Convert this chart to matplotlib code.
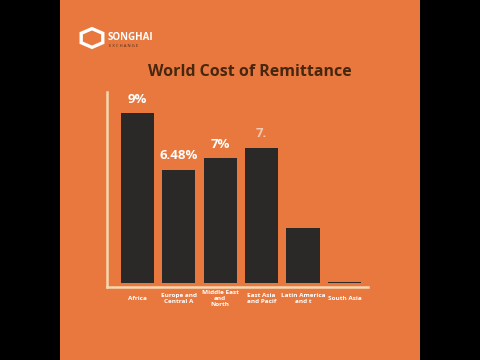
import matplotlib.pyplot as plt
from matplotlib.patches import Rectangle, RegularPolygon

regions = ["Africa", "Europe and\nCentral A", "Middle East\nand\nNorth", "East Asia\nand Pacif",
           "Latin America\nand t", "South Asia"]
cost = [9.0, 6.48, 7.0, 7.45, 3.9, 1.5]
value_labels = ["9%", "6.48%", "7%", "7.", "", ""]
label_alpha = [1, 1, 1, 0.6, 0, 0]

orange = "#E8783E"
dark = "#2A2927"
cream = "#F6D7AE"
base = 1.45

fig = plt.figure(figsize=(4.8, 3.6), dpi=100)
fig.patch.set_facecolor("black")
# orange panel between the black side bars
fig.add_artist(Rectangle((60 / 480, 0), 360 / 480, 1, transform=fig.transFigure,
                         facecolor=orange, edgecolor="none", zorder=0))

ax = fig.add_axes([107 / 480, 1 - 287 / 360, (368 - 107) / 480, (287 - 92) / 360])
ax.set_facecolor("none")
x = list(range(len(regions)))
heights = [c - base for c in cost]
ax.bar(x, heights, bottom=base, width=0.8, color=dark, zorder=2)
ax.set_xlim(-0.735, 5.57)
ax.set_ylim(1.27, 9.93)

for s in ["top", "right"]:
    ax.spines[s].set_visible(False)
for s in ["left", "bottom"]:
    ax.spines[s].set_color(cream)
    ax.spines[s].set_linewidth(1.8)
ax.set_yticks([])
ax.set_xticks(x)
ax.set_xticklabels(regions, color="white", fontsize=4.6, fontweight="bold",
                   family="Open Sans", linespacing=1.3)
ax.tick_params(axis="x", length=0, pad=0)
for t in ax.get_xticklabels():
    t.set_verticalalignment("center")
    t.set_y(-0.06)

for xi, c, lab, a in zip(x, cost, value_labels, label_alpha):
    if lab:
        ax.text(xi, c + 0.33, lab, ha="center", va="bottom", color="white", alpha=a,
                fontsize=9.5, fontweight="bold", family="Open Sans")

fig.text(250 / 480, 1 - 72 / 360, "World Cost of Remittance", ha="center", va="center",
         fontsize=11.5, fontweight="bold", color="#48260F", family="Open Sans")

# logo
fig.add_artist(RegularPolygon((92 / 480, 1 - 38 / 360), numVertices=6, radius=0.026,
                              orientation=0, transform=fig.transFigure,
                              facecolor="none", edgecolor="white", linewidth=2.4))
fig.text(108 / 480, 1 - 37 / 360, "SONGHAI", ha="left", va="center", fontsize=7,
         fontweight="bold", color="white", family="Open Sans")
fig.text(109 / 480, 1 - 46 / 360, "E X C H A N G E", ha="left", va="center", fontsize=3,
         color="#4A2A18", family="Open Sans")

fig.savefig("out.png", dpi=100, facecolor=fig.get_facecolor())
